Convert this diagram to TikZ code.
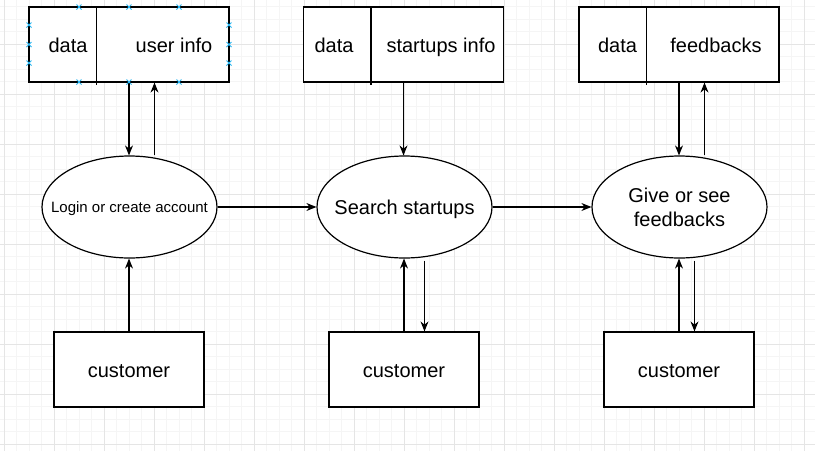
\documentclass[tikz,border=0pt]{standalone}
\usepackage{fontspec}
\setmainfont{Liberation Sans}
\usetikzlibrary{arrows.meta,shapes.geometric}
\definecolor{gridlo}{RGB}{245,245,245}
\definecolor{gridhi}{RGB}{229,229,229}
\definecolor{handle}{RGB}{41,182,242}
\tikzset{
  big/.style={font=\fontsize{20}{24}\selectfont},
  box/.style={draw,line width=1.2pt,fill=white,minimum width=150pt,minimum height=75pt,inner sep=0pt,big,text height=15pt,text depth=0pt},
  store/.style={box,minimum width=200pt},
  proc/.style={draw,ellipse,line width=1.2pt,fill=white,minimum width=175pt,minimum height=102pt,inner sep=0pt},
  lbl/.style={big,inner sep=0pt,text height=15pt,text depth=0pt},
  flow/.style={line width=1.2pt,-{Stealth[length=10pt,width=8pt]}},
}

\begin{document}
\begin{tikzpicture}[x=1pt,y=-1pt]
        \useasboundingbox (0,0) rectangle (815,451);
        \fill[white] (0,0) rectangle (815,451);
        % grid
        \foreach \k in {0,...,64} \draw[gridlo,line width=0.8pt] (4+12.5*\k,0) -- (4+12.5*\k,451);
        \foreach \k in {0,...,35} \draw[gridlo,line width=0.8pt] (0,6.5+12.5*\k) -- (815,6.5+12.5*\k);
        \foreach \k in {0,...,16} \draw[gridhi,line width=0.9pt] (4+50*\k,0) -- (4+50*\k,451);
        \foreach \k in {0,...,8} \draw[gridhi,line width=0.9pt] (0,44+50*\k) -- (815,44+50*\k);
        % data stores
        \node[store] (s1) at (129,44.5) {};
        \node[store] (s2) at (403.5,44.5) {};
        \node[store] (s3) at (679,44.5) {};
        \foreach \s in {s1,s2,s3} \draw[line width=1.2pt] ([xshift=68pt]\s.north west) -- ([xshift=68pt,yshift=-2pt]\s.south west);
        \node[lbl] (d1) at (68,44.5) {data};
        \node[lbl] (u1) at (174,44.5) {user info};
        \node[lbl] (d2) at (334,44.5) {data};
        \node[lbl] (u2) at (441,44.5) {startups info};
        \node[lbl] (d3) at (617.5,44.5) {data};
        \node[lbl] (u3) at (716,44.5) {feedbacks};
        % processes
        \node[proc] (e1) at (129.5,207) {};
        \node[proc] (e2) at (404.5,207) {};
        \node[proc] (e3) at (679.5,207) {};
        \node[lbl,font=\fontsize{15}{18}\selectfont,text height=11pt] (t1) at (e1) {Login or create account};
        \node[lbl] (t2) at (e2) {Search startups};
        \node[big,inner sep=0pt,align=center] (t3) at (e3) {Give or see\\feedbacks};
        % customers
        \node[box] (c1) at (129,369.5) {customer};
        \node[box] (c2) at (404,369.5) {customer};
        \node[box] (c3) at (679,369.5) {customer};
        % flows
        \draw[flow] (s1.south) -- (s1.south |- e1.north);
        \draw[flow] ([xshift=25pt]e1.north) -- ([xshift=25pt]e1.north |- s1.south);
        \draw[flow] (s2.south) -- (s2.south |- e2.north);
        \draw[flow] (s3.south) -- (s3.south |- e3.north);
        \draw[flow] ([xshift=25pt]e3.north) -- ([xshift=25pt]e3.north |- s3.south);
        \draw[flow] (e1) -- (e2);
        \draw[flow] (e2) -- (e3);
        \draw[flow] (c1.north) -- (c1.north |- e1.south);
        \draw[flow] (c2.north) -- (c2.north |- e2.south);
        \draw[flow] ([xshift=20pt,yshift=-2pt]e2.south) -- ([xshift=20pt]e2.south |- c2.north);
        \draw[flow] (c3.north) -- (c3.north |- e3.south);
        \draw[flow] ([xshift=15pt,yshift=-2pt]e3.south) -- ([xshift=15pt]e3.south |- c3.north);
        % selection handles
        \foreach \p in {(79,7),(129,7),(179,7),(79,82),(129,82),(179,82),(29,25),(29,44.5),(29,63),(229,25),(229,44.5),(229,63)}
          \draw[handle,line width=0.9pt] \p +(-2.5,-2.5) -- +(2.5,2.5) \p +(-2.5,2.5) -- +(2.5,-2.5);
      \end{tikzpicture}
\end{document}
